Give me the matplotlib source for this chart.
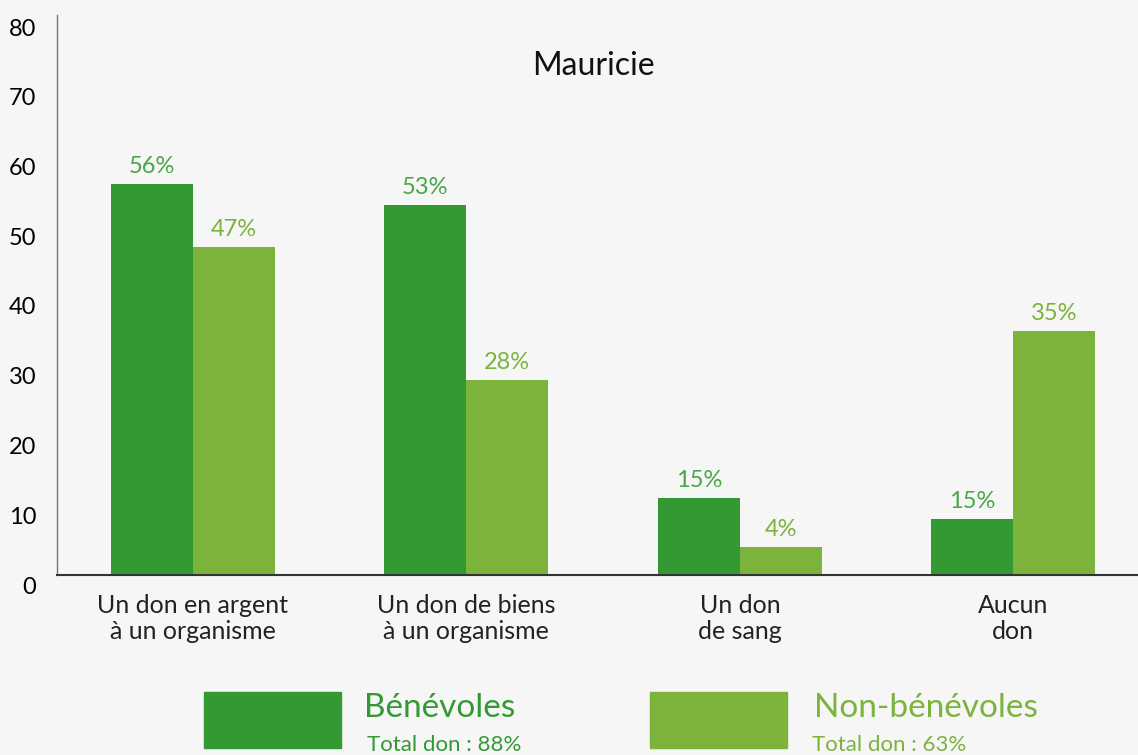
import matplotlib.pyplot as plt
import numpy as np
from matplotlib.patches import Rectangle
from matplotlib.transforms import ScaledTranslation

plt.rcParams["font.family"] = ["Lato", "DejaVu Sans"]

categories = ["Un don en argent\nà un organisme", "Un don de biens\nà un organisme",
              "Un don\nde sang", "Aucun\ndon"]
benevoles = [56, 53, 11, 8]
non_benevoles = [47, 28, 4, 35]
benevoles_labels = ["56%", "53%", "15%", "15%"]
non_benevoles_labels = ["47%", "28%", "4%", "35%"]
yticks = [0, 10, 20, 30, 40, 50, 60, 70, 80]

dark_green = "#339933"
light_green = "#7cb33d"
dark_text = "#4aa64a"
bg = "#f6f6f6"

fig = plt.figure(figsize=(11.38, 7.55), dpi=100, facecolor=bg)
ax = fig.add_axes([57 / 1138, 1 - 575 / 755, 1081 / 1138, 558 / 755])
ax.set_facecolor(bg)

x = np.arange(len(categories))
width = 0.3
ax.bar(x - width / 2, benevoles, width, color=dark_green)
ax.bar(x + width / 2, non_benevoles, width, color=light_green)

for xi, v, lab in zip(x, benevoles, benevoles_labels):
    ax.annotate(lab, (xi - width / 2, v), xytext=(0, 5), textcoords="offset points",
                ha="center", va="bottom", fontsize=17, color=dark_text)
for xi, v, lab in zip(x, non_benevoles, non_benevoles_labels):
    ax.annotate(lab, (xi + width / 2, v), xytext=(0, 5), textcoords="offset points",
                ha="center", va="bottom", fontsize=17, color=light_green)

ax.set_xlim(-0.497, 3.456)
ax.set_ylim(0, 80)
ax.set_yticks(yticks)
ax.set_yticklabels([str(t) for t in yticks], fontsize=17, color="black")
ax.set_xticks(x)
ax.set_xticklabels(categories, fontsize=18, color="#222222", linespacing=1.14)
ax.tick_params(axis="both", length=0)
ax.tick_params(axis="y", pad=15)
ax.tick_params(axis="x", pad=14)
for label in ax.get_yticklabels():
    label.set_transform(label.get_transform() + ScaledTranslation(0, -10 / 100, fig.dpi_scale_trans))

ax.spines["top"].set_visible(False)
ax.spines["right"].set_visible(False)
ax.spines["left"].set_color("#777777")
ax.spines["left"].set_linewidth(1)
ax.spines["left"].set_bounds(0, 80.3)
ax.spines["bottom"].set_color("#333333")
ax.spines["bottom"].set_linewidth(1.5)

ax.text(0.496, 0.912, "Mauricie", transform=ax.transAxes, ha="center", va="center",
        fontsize=23, color="#111111")

# legend
W, H = 1138, 755
fig.add_artist(Rectangle((204 / W, 1 - 748 / H), 137 / W, 56 / H, transform=fig.transFigure,
                         color=dark_green))
fig.add_artist(Rectangle((650 / W, 1 - 748 / H), 137 / W, 56 / H, transform=fig.transFigure,
                         color=light_green))
fig.text(364 / W, 1 - 708 / H, "Bénévoles", fontsize=24, color=dark_green, va="center")
fig.text(367 / W, 1 - 745 / H, "Total don : 88%", fontsize=16, color=dark_green, va="center")
fig.text(814 / W, 1 - 708 / H, "Non-bénévoles", fontsize=24, color=light_green, va="center")
fig.text(812 / W, 1 - 745 / H, "Total don : 63%", fontsize=16, color=light_green, va="center")

fig.savefig("out.png", dpi=100, facecolor=bg)
